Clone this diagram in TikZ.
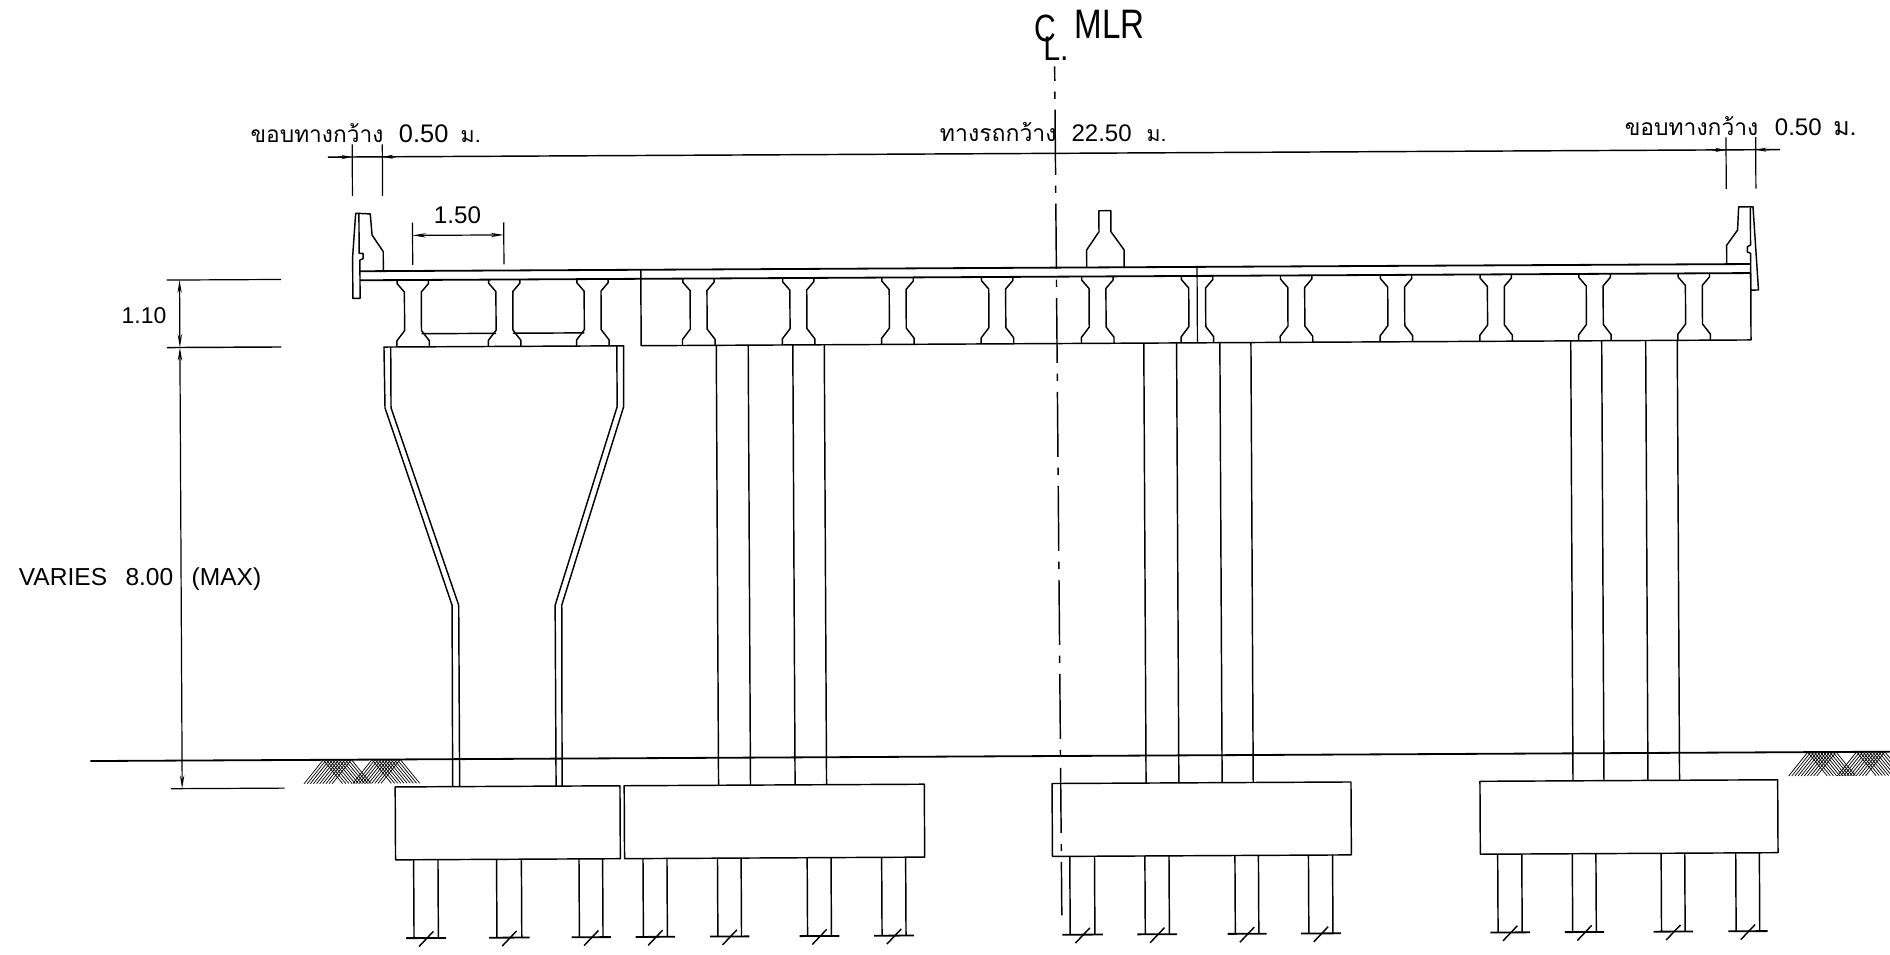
\documentclass[tikz,border=0pt]{standalone}
\usepackage{fontspec}
\usepackage{graphicx}
\usetikzlibrary{arrows.meta}
\setmainfont{Liberation Sans}
\newfontfamily\thaifont[Script=Thai]{Loma}
\newfontfamily\latfont{Liberation Sans}
\newcommand\thaisize{\fontsize{20}{22}\selectfont}
\newcommand\digsize{\fontsize{18}{20}\selectfont}
% one Thai dimension label: Thai text, number, Thai width, gap, number width, gap, unit width
\newcommand\thlabel[7]{\hbox{\thaifont\thaisize\resizebox{#3pt}{!}{#1}\hspace{#4pt}\latfont\digsize\resizebox{#5pt}{!}{#2}\hspace{#6pt}\thaifont\thaisize\resizebox{#7pt}{!}{ม.}}}
\tikzset{
  ln/.style={line width=1.2pt,line join=round,black},
  heavy/.style={line width=1.5pt,line join=round,black},
  hair/.style={line width=1pt,black},
  hatchln/.style={line width=.6pt,black},
  dimln/.style={line width=1pt,black,{Stealth[length=11pt,width=3.6pt]}-{Stealth[length=11pt,width=3.6pt]}},
  tipln/.style={line width=1pt,black,-{Stealth[length=9pt,width=3.4pt]}},
  axisln/.style={line width=1.2pt,black,dash pattern=on 54pt off 9pt on 6pt off 9pt,dash phase=42pt},
  lbl/.style={inner sep=0pt,outer sep=0pt,anchor=base west,black},
}
\newcommand\drawgirder[1]{%
  \draw[ln] (#1-13,230) -- (#1-13,233) -- (#1-7,240) -- (#1-7,272) -- (#1-13.5,280.5) -- (#1-13.5,285.5);
  \draw[ln] (#1+13,230) -- (#1+13,233) -- (#1+7,240) -- (#1+7,272) -- (#1+13.5,280.5) -- (#1+13.5,285.5);
}
\newcommand\drawhatch[1]{%
  \foreach \t in {0,2.6,...,24}{
    \draw[hatchln] (#1+\t,627.7) -- (#1+\t-16,647.5);
    \draw[hatchln] (#1+\t,627.7) -- (#1+\t+16,647.5);
    \draw[hatchln] (#1+40.5+\t,627.7) -- (#1+40.5+\t-16,647.5);
    \draw[hatchln] (#1+40.5+\t,627.7) -- (#1+40.5+\t+16,647.5);
  }
}
\begin{document}
\begin{tikzpicture}[x=1pt,y=-1pt]
\useasboundingbox (0,0) rectangle (1568,792);
\clip (0,0) rectangle (1568,792);
\begin{scope}[rotate around={0.298:(784,396)}]
  % deck
  \draw[heavy] (299.5,222.5) -- (1453.3,222.5);
  \draw[heavy] (299.5,230) -- (1453.3,230);
  % cross-beam outline of the long span
  \draw[ln] (532.5,222.5) -- (532.5,285.5) -- (1453.3,285.5) -- (1453.3,230);
  \draw[hair] (994,222.5) -- (994,285.5);
  % parapets
  \draw[ln] (296.2,174.5) -- (293.5,210.5) -- (293.5,245) -- (299.5,245) -- (299.5,213.2) -- (302.2,212) -- (302.2,207.7) -- (298.9,207.7) -- (298.9,174.5) -- cycle;
  \draw[ln] (298.9,174.5) -- (308.3,175) -- (309.7,192.5) -- (318.9,206.3) -- (318.9,222.5);
  \draw[ln] (1455.5,175) -- (1459.7,244.1) -- (1453.3,244.1) -- (1453.3,213.6) -- (1450.6,212.5) -- (1450.6,208.2) -- (1453.3,206.8) -- (1453.3,175) -- cycle;
  \draw[ln] (1455.5,175) -- (1443.6,175) -- (1442.6,194.3) -- (1433.5,206.8) -- (1433.5,222.5);
  \draw[ln] (902.5,222.5) -- (902.5,208) -- (912.8,192.9) -- (912.8,175.5) -- (922.7,175.5) -- (922.7,192.9) -- (933.5,208) -- (933.5,222.5);
  % girders
  \foreach \g in {343.3,419.2,492.4,580.3,663.1,745.5,828.1,911.3,994,1076.2,1159.1,1241.8,1323.8,1406.1}{\drawgirder{\g}}
  \draw[ln] (350.3,274.6) -- (412.2,274.6);
  \draw[ln] (426.2,274.6) -- (485.4,274.6);
  % left pier
  \draw[ln] (374.2,650.5) -- (374.5,500) -- (319.7,336) -- (319.1,285.5) -- (518,285.5) -- (517.7,336) -- (465.5,500.4) -- (465,650.5);
  \draw[ln] (380,650.5) -- (380,500) -- (324.7,336) -- (324.7,285.5);
  \draw[ln] (460,650.5) -- (460,500.4) -- (512.3,336) -- (512.3,285.5);
  % columns
  \foreach \c in {594.8,621.3,658.3,684.4,949.5,976.7,1012.6,1038.4,1303.7,1329.4,1365.9,1392.1}{\draw[ln] (\c,285.5) -- (\c,650.5);}
  % footings
  \foreach \a/\b in {326.5/513,516.5/765.5,871.5/1119.5,1226.5/1473.5}{\draw[ln] (\a,650.5) rectangle (\b,711);}
  % piles
  \foreach \a/\b in {341.5/361.7,410.3/430.9,478.7/498.3,531.8/551.7,593.6/613.2,668/687.8,729.8/749.7,885.9/906.4,948.2/968.2,1022.9/1042.4,1083.9/1103.9,1240.9/1260.9,1302.8/1322.4,1376.5/1396.1,1438.4/1458}{
    \draw[ln] (\a,711) -- (\a,776);
    \draw[ln] (\b,711) -- (\b,776);
    \draw[heavy] (\a-6.5,776) -- (\b+6.5,776);
    \draw[ln] ({(\a+\b)/2-6},783) -- ({(\a+\b)/2+6},770.5);
  }
  % ground
  \draw[heavy] (73.8,627.7) -- (1566.8,627.7);
  \drawhatch{266.9}
  \drawhatch{1498.6}
  % centre line
  \coordinate (cltop) at (876.8,55.5);
  \coordinate (clbot) at (879.1,760);
  \draw[axisln] (cltop) -- (clbot);
  % top dimension
  \coordinate (dl) at (273.4,127.7);
  \coordinate (dr) at (1478.4,127.7);
  \draw[ln] (dl) -- (dr);
  \foreach \x in {293.6,318.6,1433.4,1458}{\draw[hair] (\x,117.3) -- (\x,160);}
  \draw[tipln] (282,127.7) -- (293.6,127.7);
  \draw[tipln] (330,127.7) -- (318.6,127.7);
  \draw[tipln] (1422,127.7) -- (1433.4,127.7);
  \draw[tipln] (1469.5,127.7) -- (1458,127.7);
  % 1.50
  \draw[hair] (343.3,182.5) -- (343.3,217.5);
  \draw[hair] (419,182.5) -- (419,217.5);
  \draw[dimln] (343.3,193) -- (419,193);
  % vertical dimensions
  \draw[hair] (139,229) -- (234,229);
  \draw[ln] (139,285) -- (234,285);
  \draw[hair] (140.7,651) -- (234.7,651);
  \draw[dimln] (149.8,229) -- (149.8,285);
  \draw[dimln] (149.8,285) -- (149.8,651);
\end{scope}
% labels
\node[lbl] (cc) at (858,34.6) {\resizebox{18pt}{22pt}{\fontsize{30}{30}\selectfont C}};
\node[lbl] (ll) at (865.5,49.8) {\resizebox{21pt}{19.5pt}{\fontsize{27}{27}\selectfont L.}};
\node[lbl] (mlr) at (891.8,31.8) {\resizebox{58pt}{23.5pt}{\fontsize{32}{32}\selectfont MLR}};
\node[lbl] (t1) at (208,118) {\thlabel{ขอบทางกว้าง}{0.50}{110}{13}{41}{10.2}{16.6}};
\node[lbl] (t2) at (779.8,117.4) {\thlabel{ทางรถกว้าง}{22.50}{96.8}{12.4}{49.8}{12.5}{16.5}};
\node[lbl] (t3) at (1348,112.8) {\thlabel{ขอบทางกว้าง}{0.50}{110.7}{13.8}{38.8}{9.6}{19.4}};
\node[lbl] (d150) at (360,185.8) {\resizebox{39pt}{!}{\fontsize{18}{20}\selectfont 1.50}};
\node[lbl] (d110) at (101,268) {\resizebox{37pt}{!}{\fontsize{18}{20}\selectfont 1.10}};
\node[lbl] (dvar) at (15.7,486) {\resizebox{201pt}{!}{\fontsize{20}{24}\selectfont VARIES\hspace{15pt}8.00\hspace{15pt}(MAX)}};
\end{tikzpicture}
\end{document}
